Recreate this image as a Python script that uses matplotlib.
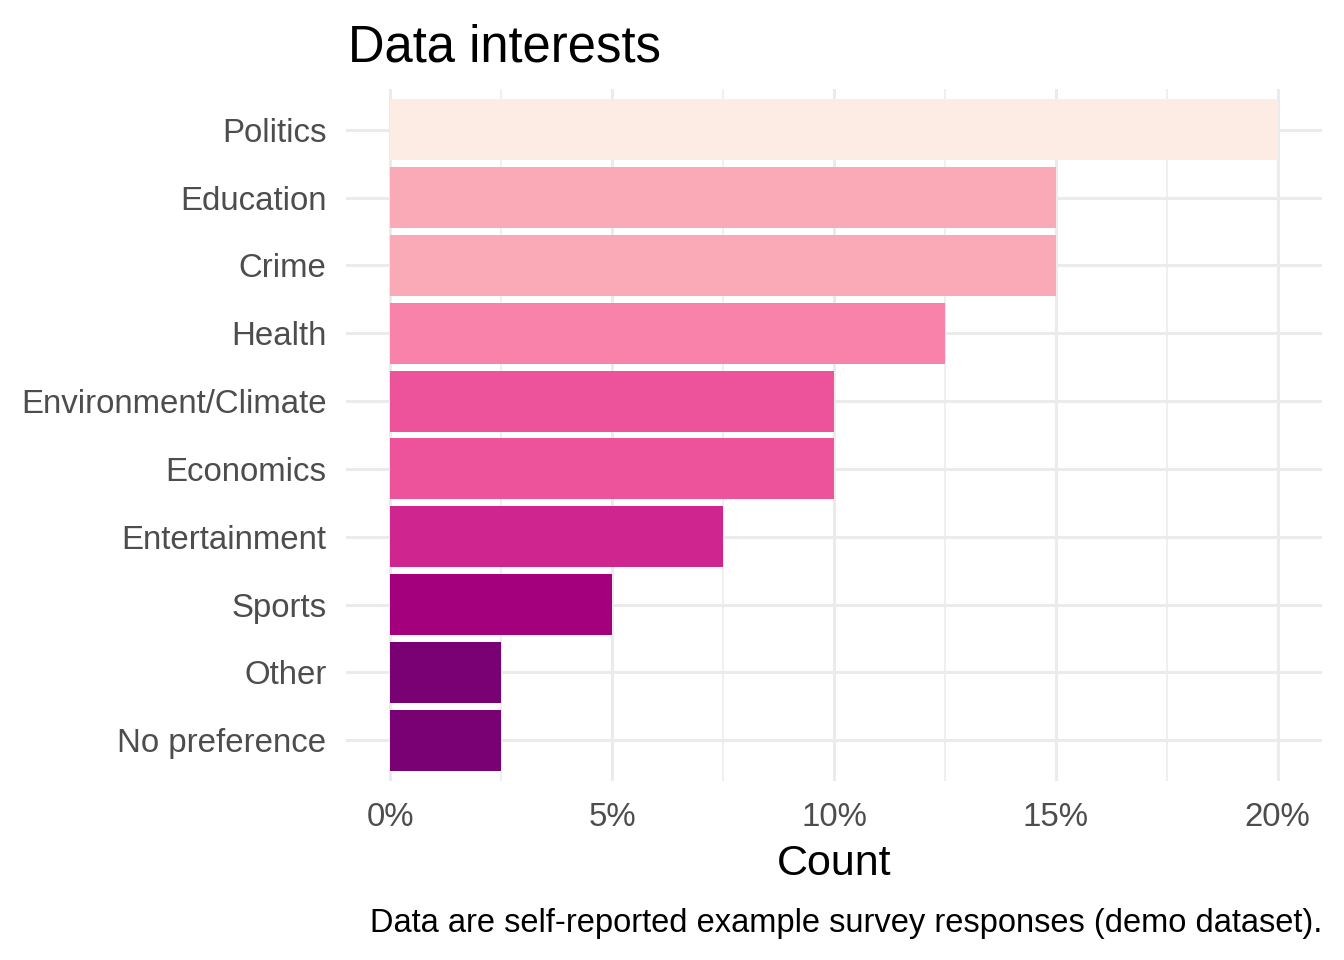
import numpy as np
import matplotlib
matplotlib.use("Agg")
from matplotlib import pyplot as plt
from matplotlib.ticker import PercentFormatter, MultipleLocator

plt.rcParams['font.family'] = ['Liberation Sans', 'DejaVu Sans']

# data
categories = ["Politics", "Education", "Crime", "Health", "Environment/Climate",
              "Economics", "Entertainment", "Sports", "Other", "No preference"]
shares = [0.20, 0.15, 0.15, 0.125, 0.10, 0.10, 0.075, 0.05, 0.025, 0.025]
colours = ["#FDECE3", "#FAAAB6", "#FAAAB6", "#F882AA", "#EC539A",
           "#EC539A", "#CE268E", "#A4007D", "#7A0173", "#7A0173"]

W, H = 1344, 960
fig = plt.figure(figsize=(W / 100, H / 100), dpi=100)
left, right, top, bottom = 346, 1322, 89, 781
ax = fig.add_axes([left / W, 1 - bottom / H, (right - left) / W, (bottom - top) / H])

grid = "#EBEBEB"
ax.set_axisbelow(True)
ax.xaxis.set_major_locator(MultipleLocator(0.05))
ax.xaxis.set_minor_locator(MultipleLocator(0.025))
ax.grid(True, which="major", axis="both", color=grid, linewidth=2.2)
ax.grid(True, which="minor", axis="x", color=grid, linewidth=1.1)

ax.barh(categories, shares, height=0.9, color=colours)

ax.set_xlim(-0.01, 0.21)
ax.set_ylim(len(categories) - 0.4, -0.6)
ax.xaxis.set_major_formatter(PercentFormatter(xmax=1, decimals=0))

for s in ax.spines.values():
    s.set_visible(False)
ax.tick_params(which="both", length=0)
ax.tick_params(axis="y", labelsize=23.8, labelcolor="#4D4D4D", pad=14)
ax.tick_params(axis="x", labelsize=23.8, labelcolor="#4D4D4D", pad=15)

ax.set_xlabel("Count", fontsize=31, color="black", labelpad=8)

fig.text(348 / W, 1 - 61 / H, "Data interests", fontsize=36.5, ha="left",
         va="baseline", color="black")
fig.text(1322 / W, 1 - 932 / H,
         "Data are self-reported example survey responses (demo dataset).",
         fontsize=23.5, ha="right", va="baseline", color="black")

plt.savefig("out.png", dpi=100, facecolor="white")
